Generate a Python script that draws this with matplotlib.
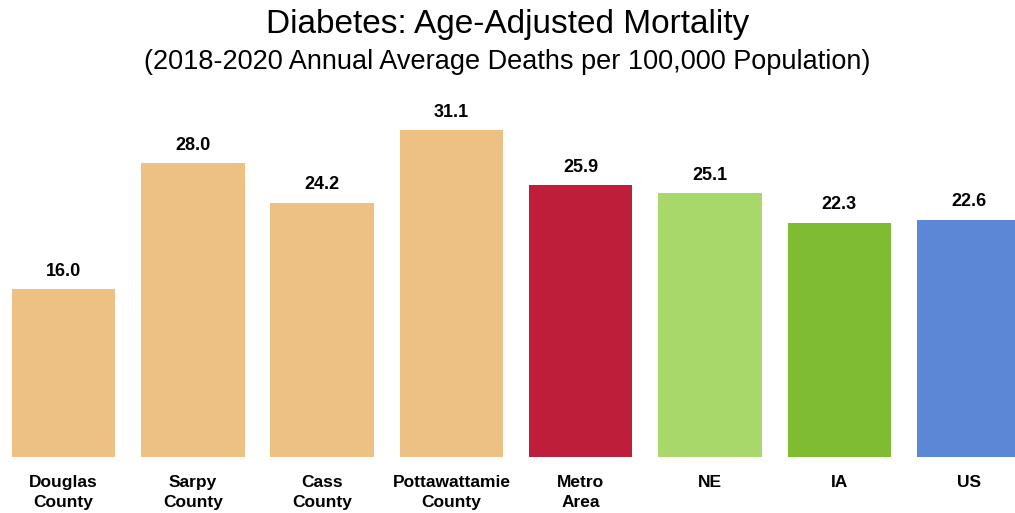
import matplotlib.pyplot as plt

plt.rcParams['font.family'] = ['Liberation Sans', 'DejaVu Sans']

# Daten
categories = ['Douglas\nCounty', 'Sarpy\nCounty', 'Cass\nCounty', 'Pottawattamie\nCounty',
              'Metro\nArea', 'NE', 'IA', 'US']
values = [16.0, 28.0, 24.2, 31.1, 25.9, 25.1, 22.3, 22.6]
colors = ['#EDC083', '#EDC083', '#EDC083', '#EDC083', '#BE1E3A', '#A8D86A', '#7FBC32', '#5B87D6']

fig = plt.figure(figsize=(10.15, 5.13), dpi=100)
ax = fig.add_axes([0, 56 / 513, 1, 357 / 513])

x = range(len(values))
ax.bar(x, values, width=0.8, color=colors)
for i, v in zip(x, values):
    ax.text(i, v + 0.9, f'{v:.1f}', ha='center', va='bottom', fontsize=13, fontweight='bold')

ax.set_xlim(-0.491, 7.359)
ax.set_ylim(0, 34)
ax.set_xticks(list(x))
ax.set_xticklabels(categories, fontsize=12.5, fontweight='bold', linespacing=1.4)
ax.tick_params(axis='x', length=0, pad=13)
ax.set_yticks([])
for s in ax.spines.values():
    s.set_visible(False)

fig.text(0.5, 1 - 24 / 513, 'Diabetes: Age-Adjusted Mortality', ha='center', va='center', fontsize=24)
fig.text(0.5, 1 - 62 / 513, '(2018-2020 Annual Average Deaths per 100,000 Population)',
         ha='center', va='center', fontsize=19.5)

fig.savefig('out.png', dpi=100)
